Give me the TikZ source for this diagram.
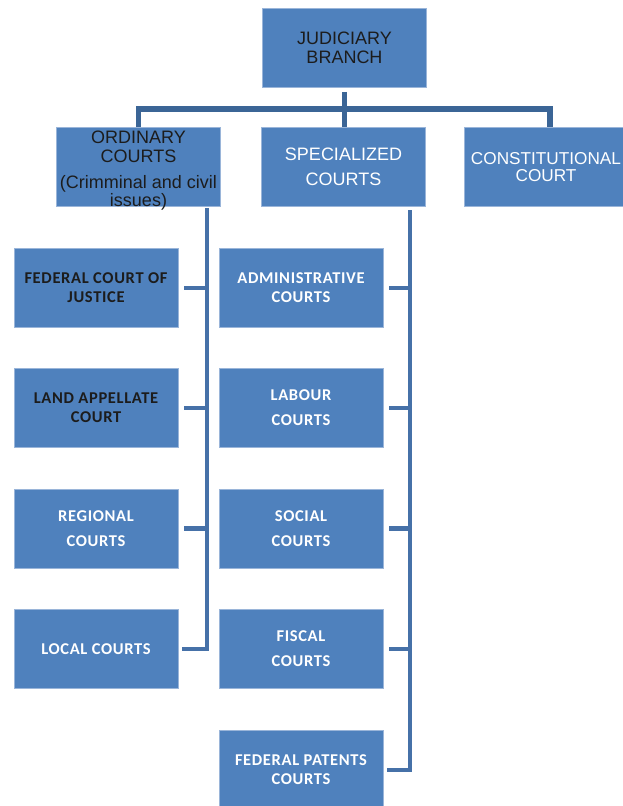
\documentclass[tikz,border=0pt]{standalone}
\usepackage{fontspec}
\newfontfamily\upfont{Liberation Sans}
\newfontfamily\lowfont{Carlito}[LetterSpace=4]
\definecolor{boxblue}{HTML}{4F81BD}
\definecolor{boxedge}{HTML}{9AB5D9}
\definecolor{trunkc}{HTML}{3B6596}
\definecolor{linec}{HTML}{4671A8}
\definecolor{darktxt}{HTML}{1C1C1C}
\tikzset{
  box/.style={rectangle, fill=boxblue, draw=boxedge, line width=0.8pt, minimum width=164pt, minimum height=79pt, inner sep=0pt, align=center},
  upper/.style={box, font=\upfont\fontsize{18}{18.5}\selectfont},
  lower/.style={box, font=\lowfont\bfseries\fontsize{16.5}{19}\selectfont},
  trunk/.style={draw=trunkc, line width=5.5pt},
  conn/.style={draw=linec, line width=4.5pt},
}
\begin{document}
\begin{tikzpicture}[x=1pt,y=-1pt]
\useasboundingbox (0,0) rectangle (622,806);
\fill[white] (0,0) rectangle (622,806);
% top level
\node[upper, text=darktxt] (jb) at (344.5,48) {JUDICIARY\\BRANCH};
\node[upper] (ord) at (138.5,167) {};
\node[font=\upfont\fontsize{18}{18.5}\selectfont, text=darktxt, align=center, inner sep=0pt] (ordtxt) at ([yshift=-4pt]ord.center) {ORDINARY\\COURTS\\[7.5pt](Crimminal and civil\\issues)};
\node[upper, text=white] (spec) at (343.5,167) {SPECIALIZED\\[6.5pt]COURTS};
\node[upper, text=white, font=\upfont\fontsize{17.2}{18}\selectfont] (const) at (546,167) {CONSTITUTIONAL\\[-1pt]COURT};
% ordinary column
\node[lower, text=darktxt] (fcj) at (96,288) {FEDERAL COURT OF\\JUSTICE};
\node[lower, text=darktxt] (lac) at (96,408) {LAND APPELLATE\\COURT};
\node[lower, text=white] (reg) at (96,528.5) {REGIONAL\\[6pt]COURTS};
\node[lower, text=white] (loc) at (96,649) {LOCAL COURTS};
% specialized column
\node[lower, text=white] (adm) at (301,288) {ADMINISTRATIVE\\COURTS};
\node[lower, text=white] (lab) at (301,408) {LABOUR\\[6pt]COURTS};
\node[lower, text=white] (soc) at (301,528.5) {SOCIAL\\[6pt]COURTS};
\node[lower, text=white] (fis) at (301,649) {FISCAL\\[6pt]COURTS};
\node[lower, text=white, minimum height=80pt] (pat) at (301,770) {FEDERAL PATENTS\\COURTS};
% tree from the top
\draw[trunk] ([yshift=-4pt]jb.south) -- ++(0,17) coordinate (hub);
\draw[trunk] (ord.north) -- (ord.north |- hub) -- ([xshift=4pt]const.north |- hub) -- ([xshift=4pt]const.north);
\draw[trunk] (hub) -- (hub |- spec.north);
% left spine
\coordinate (lx) at (207,0);
\draw[conn, line cap=rect] ([yshift=-3pt]ord.south -| lx) -- (loc.east -| lx) -- ([xshift=6pt]loc.east);
\foreach \n in {fcj,lac,reg}{
  \draw[conn] ([xshift=6pt]\n.east) -- (\n.east -| lx);
}
% right spine
\coordinate (rx) at (410,0);
\draw[conn, line cap=rect] ([yshift=-5pt]spec.south -| rx) -- (pat.east -| rx) -- ([xshift=6pt]pat.east);
\foreach \n in {adm,lab,soc,fis}{
  \draw[conn] ([xshift=6pt]\n.east) -- (\n.east -| rx);
}
\end{tikzpicture}
\end{document}
